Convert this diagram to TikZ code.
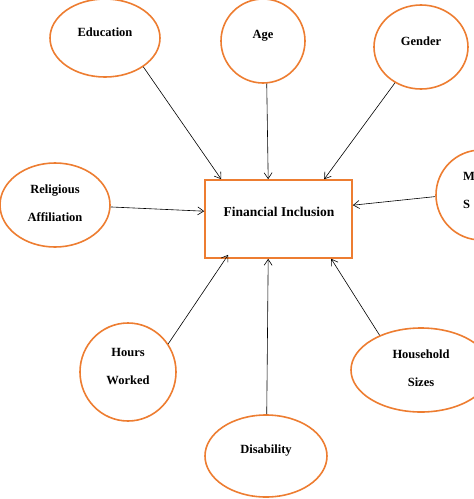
\documentclass[tikz,border=0pt]{standalone}
\usepackage{fontspec}
\setmainfont{Liberation Serif}
\definecolor{fiorange}{RGB}{237,125,49}
\usetikzlibrary{arrows.meta, shapes.geometric}
\tikzset{
  factor/.style={draw=fiorange, line width=1.6pt, ellipse, inner sep=0pt},
  lbl/.style={font=\bfseries\fontsize{12.5}{28}\selectfont, inner sep=0pt, align=center},
  link/.style={-{Straight Barb[length=6pt,width=8pt]}, line width=0.6pt},
}
\begin{document}
\begin{tikzpicture}[x=1pt,y=-1pt]
  \useasboundingbox (0,0) rectangle (474,499);
  \clip (0,0) rectangle (474,499);
  % Caixa central
  \node[draw=fiorange, line width=1.6pt, minimum width=147pt, minimum height=78pt, inner sep=0pt] (fi) at (278.5,219) {};
  \node[lbl, font=\bfseries\fontsize{13.5}{15}\selectfont] (fitxt) at (279,212) {Financial Inclusion};
  % Fatores
  \node[factor, minimum width=110pt, minimum height=78pt] (edu) at (105,38) {};
  \node[lbl] (edutxt) at (105,32) {Education};
  \node[factor, minimum width=84pt, minimum height=84pt] (age) at (263,41) {};
  \node[lbl] (agetxt) at (263,36) {Age};
  \node[factor, minimum width=94pt, minimum height=84pt] (gen) at (421,47) {};
  \node[lbl] (gentxt) at (421,41) {Gender};
  \node[factor, minimum width=110pt, minimum height=84pt] (rel) at (55,205) {};
  \node[lbl] (reltxt) at (55,203.5) {Religious\\Affiliation};
  \node[factor, minimum width=90pt, minimum height=90pt] (mar) at (481,195) {};
  \node[lbl, anchor=west, align=left] (martxt) at (463,190) {M\\S};
  \node[factor, minimum width=96pt, minimum height=98pt] (hrs) at (128,372) {};
  \node[lbl] (hrstxt) at (128,366) {Hours\\Worked};
  \node[factor, minimum width=122pt, minimum height=82pt] (dis) at (266,456) {};
  \node[lbl] (distxt) at (266,451) {Disability};
  \node[factor, minimum width=140pt, minimum height=84pt] (hhs) at (421,370) {};
  \node[lbl] (hhstxt) at (421,368) {Household\\Sizes};
  % Setas
  \draw[link] (edu.-37) -- ([xshift=17pt]fi.north west);
  \draw[link] (age.-85) -- ([xshift=64pt]fi.north west);
  \draw[link] (gen.-126) -- ([xshift=120pt]fi.north west);
  \draw[link] (rel.-2) -- ([yshift=-32pt]fi.north west);
  \draw[link] (mar.182) -- ([yshift=-26pt]fi.north east);
  \draw[link] (hrs.35) -- ([xshift=24pt,yshift=4pt]fi.south west);
  \draw[link] (dis.89) -- ([xshift=64pt]fi.south west);
  \draw[link] (hhs.140) -- ([xshift=127pt]fi.south west);
\end{tikzpicture}
\end{document}
